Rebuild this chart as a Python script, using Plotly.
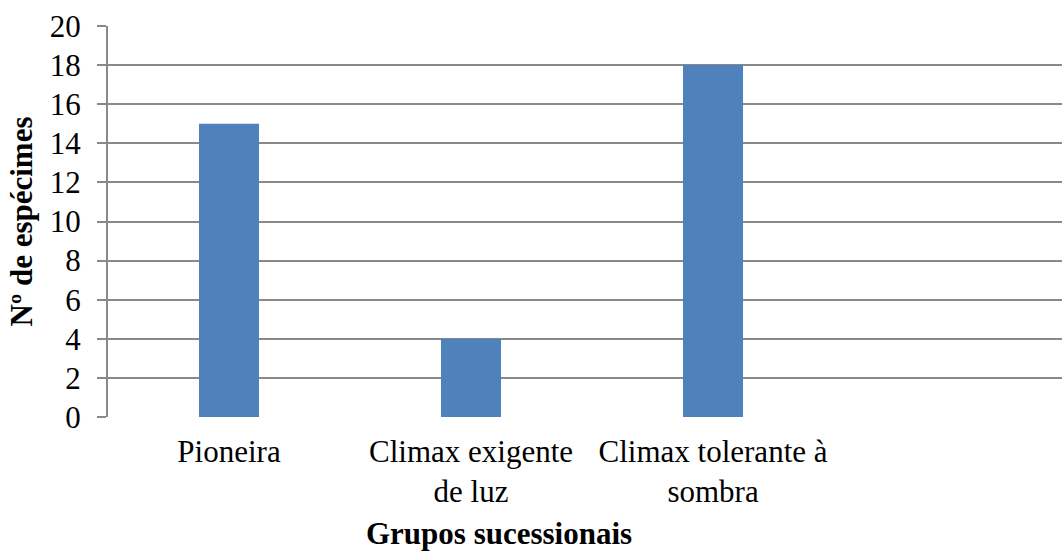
import plotly.graph_objects as go

# Successional groups and number of specimens in each
groups = ["Pioneira", "Climax exigente<br>de luz", "Climax tolerante à<br>sombra"]
specimens = [15, 4, 18]
y_ticks = [0, 2, 4, 6, 8, 10, 12, 14, 16, 18, 20]

positions = list(range(len(groups)))

fig = go.Figure(
    go.Bar(
        x=positions,
        y=specimens,
        width=0.248,
        marker=dict(color="#4F81BD", line=dict(width=0)),
        hoverinfo="x+y",
    )
)

serif = "Liberation Serif, Times New Roman, serif"
grid_col = "#898989"

fig.update_layout(
    width=1062,
    height=551,
    margin=dict(l=108, r=0, t=26, b=134),
    plot_bgcolor="white",
    paper_bgcolor="white",
    showlegend=False,
    font=dict(family=serif, size=31, color="black"),
    xaxis=dict(
        range=[-0.5, 3.442],
        tickvals=positions,
        ticktext=groups,
        showgrid=False,
        zeroline=False,
        showline=False,
        ticks="",
        ticklabelstandoff=13,
        tickfont=dict(family=serif, size=31, color="black"),
    ),
    yaxis=dict(
        range=[0, 20],
        tickvals=y_ticks,
        showgrid=True,
        gridcolor=grid_col,
        gridwidth=2,
        zeroline=False,
        showline=True,
        linecolor=grid_col,
        linewidth=2,
        ticks="outside",
        ticklen=9,
        tickwidth=2,
        tickcolor=grid_col,
        ticklabelstandoff=10,
        tickfont=dict(family=serif, size=31, color="black"),
        title=dict(
            text="<b>Nº de espécimes</b>",
            font=dict(family=serif, size=31, color="black"),
            standoff=8,
        ),
    ),
    annotations=[
        dict(
            text="<b>Grupos sucessionais</b>",
            xref="paper",
            yref="paper",
            x=(499 - 108) / 954,
            y=-(533 - 417) / 391,
            xanchor="center",
            yanchor="middle",
            showarrow=False,
            font=dict(family=serif, size=31, color="black"),
        )
    ],
)

fig.write_html("out.html")
